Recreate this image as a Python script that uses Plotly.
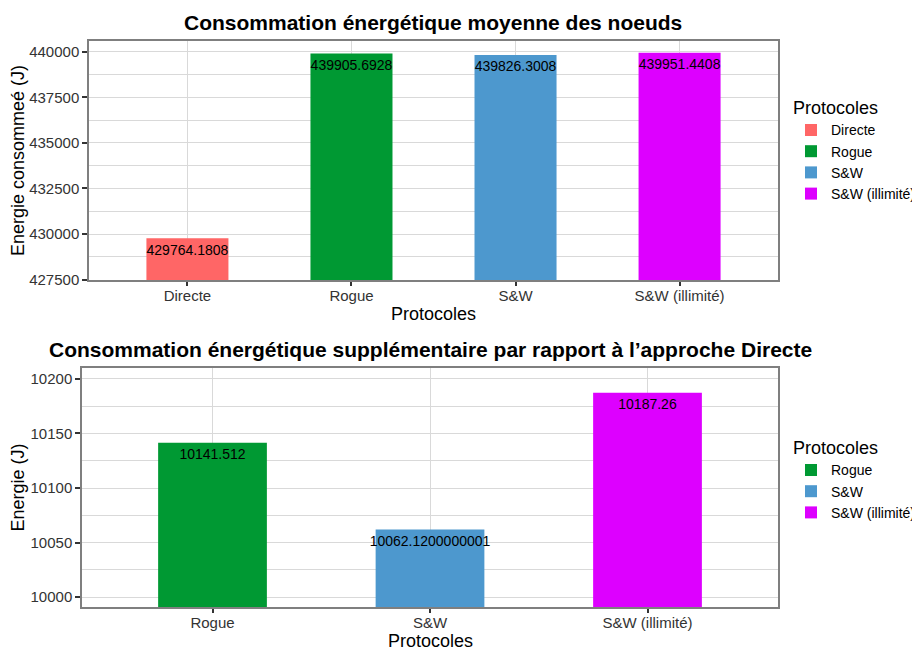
import plotly.graph_objects as go

# haut : consommation moyenne
protocoles = ['Directe', 'Rogue', 'S&W', 'S&W (illimité)']
conso = [429764.1808, 439905.6928, 439826.3008, 439951.4408]
conso_txt = ['429764.1808', '439905.6928', '439826.3008', '439951.4408']

# bas : surplus par rapport a Directe
protocoles_sup = ['Rogue', 'S&W', 'S&W (illimité)']
surplus = [10141.512, 10062.1200000001, 10187.26]
surplus_txt = ['10141.512', '10062.1200000001', '10187.26']

couleurs = {'Directe': '#FF6666', 'Rogue': '#009933',
            'S&W': '#4D98CE', 'S&W (illimité)': '#DD00FF'}

# la page a une marge de 8px : figure 912x642, positions prises sur l'image moins 8
W, H = 912, 642
def px(x):
    return (x - 8) / W
def py(y):
    return 1 - (y - 8) / H

police = 'Liberation Sans, Arial, sans-serif'
fig = go.Figure()

for p, v in zip(protocoles, conso):
    fig.add_trace(go.Bar(x=[p], y=[v], name=p, marker_color=couleurs[p], width=0.5,
                         marker_line_width=0, legend='legend', xaxis='x', yaxis='y'))
fig.add_trace(go.Scatter(x=protocoles, y=conso, text=conso_txt, mode='markers+text',
                         marker=dict(size=8, opacity=0),
                         textposition='bottom center', textfont=dict(size=14, color='black'),
                         showlegend=False, hoverinfo='skip', xaxis='x', yaxis='y', cliponaxis=False))

for p, v in zip(protocoles_sup, surplus):
    fig.add_trace(go.Bar(x=[p], y=[v], name=p, marker_color=couleurs[p], width=0.5,
                         marker_line_width=0, legend='legend2', xaxis='x2', yaxis='y2'))
fig.add_trace(go.Scatter(x=protocoles_sup, y=surplus, text=surplus_txt, mode='markers+text',
                         marker=dict(size=8, opacity=0),
                         textposition='bottom center', textfont=dict(size=14, color='black'),
                         showlegend=False, hoverinfo='skip', xaxis='x2', yaxis='y2', cliponaxis=False))

axe_x = dict(type='category', showgrid=True, gridcolor='#d9d9d9', gridwidth=1.2,
             showline=True, mirror=True, linecolor='#7f7f7f', linewidth=1.5,
             ticks='outside', ticklen=4, tickcolor='#333333', tickwidth=1.5,
             ticklabelstandoff=-3,
             tickfont=dict(size=15, color='#333333'), zeroline=False)
axe_y = dict(showgrid=True, gridcolor='#d9d9d9', gridwidth=1.2,
             showline=True, mirror=True, linecolor='#7f7f7f', linewidth=1.5,
             ticks='outside', ticklen=5, tickcolor='#333333', tickwidth=1.5,
             tickfont=dict(size=15, color='#333333'), zeroline=False)

fig.update_layout(
    width=W, height=H, margin=dict(l=0, r=0, t=0, b=0, autoexpand=False),
    paper_bgcolor='white', plot_bgcolor='white', barmode='overlay',
    font=dict(family=police, color='black'),
    xaxis=dict(axe_x, domain=[px(89), px(778)], anchor='y', range=[-0.6, 3.6]),
    yaxis=dict(axe_y, domain=[py(280), py(41)], anchor='x', range=[427480, 440590],
               dtick=2500, tickformat='d',
               minor=dict(dtick=1250, showgrid=True, gridcolor='#d9d9d9', gridwidth=1),
               title=dict(text='Energie consommeé (J)', font=dict(size=18), standoff=1)),
    xaxis2=dict(axe_x, domain=[px(82), px(778)], anchor='y2', range=[-0.6, 2.6]),
    yaxis2=dict(axe_y, domain=[py(607), py(368)], anchor='x2', range=[9991, 10210],
                dtick=50, tickformat='d',
                minor=dict(dtick=25, showgrid=True, gridcolor='#d9d9d9', gridwidth=1),
                title=dict(text='Energie (J)', font=dict(size=18), standoff=1)),
    legend=dict(x=px(791), y=py(91), xanchor='left', yanchor='top',
                title=dict(text='Protocoles', font=dict(size=18)),
                font=dict(size=14), tracegroupgap=0, itemsizing='constant'),
    legend2=dict(x=px(791), y=py(431), xanchor='left', yanchor='top',
                 title=dict(text='Protocoles', font=dict(size=18)),
                 font=dict(size=14), tracegroupgap=0, itemsizing='constant'),
    annotations=[
        dict(text='<b>Consommation énergétique moyenne des noeuds</b>', x=px(433), y=py(22),
             yanchor='middle', xref='paper', yref='paper', showarrow=False, font=dict(size=21)),
        dict(text='<b>Consommation énergétique supplémentaire par rapport à l’approche Directe</b>',
             x=px(430), y=py(350), yanchor='middle', xref='paper', yref='paper', showarrow=False,
             font=dict(size=21)),
        dict(text='Protocoles', x=px(433), y=py(314), yanchor='middle', xref='paper', yref='paper',
             showarrow=False, font=dict(size=18)),
        dict(text='Protocoles', x=px(430), y=py(641), yanchor='middle', xref='paper', yref='paper',
             showarrow=False, font=dict(size=18)),
    ],
)

fig.write_html('out.html')
